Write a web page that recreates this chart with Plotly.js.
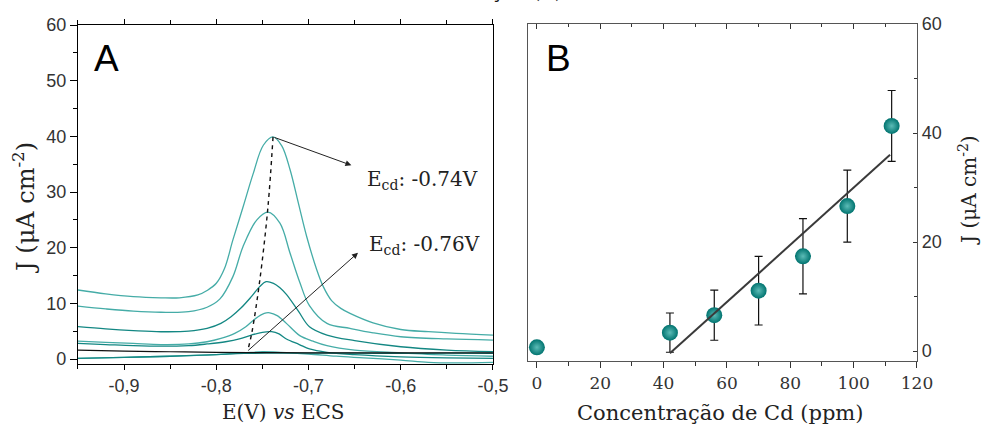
<!DOCTYPE html>
<html>
<head>
<meta charset="utf-8">
<script src="https://cdn.plot.ly/plotly-3.0.1.min.js"></script>
<style>html,body{margin:0;padding:0;background:#fff;}#chart{width:982px;height:426px;}</style>
</head>
<body>
<div id="chart"></div>
<script>
// ---------- Panel A: voltammograms ----------
const E1 = [-0.95,-0.92,-0.89,-0.86,-0.84,-0.82,-0.81,-0.80,-0.791,-0.782,-0.771,-0.760,-0.749,-0.7385,-0.729,-0.720,-0.711,-0.702,-0.691,-0.684,-0.675,-0.665,-0.655,-0.63,-0.60,-0.57,-0.54,-0.50];
const J1 = [12.4,11.7,11.2,11.0,11.0,11.5,12.3,13.6,16.3,21.4,27.3,33.3,38.4,39.9,38.3,34.0,28.0,22.0,16.0,13.0,10.5,9.1,8.2,6.5,5.3,4.9,4.6,4.3];
const E2 = [-0.95,-0.92,-0.89,-0.86,-0.83,-0.81,-0.796,-0.782,-0.771,-0.756,-0.744,-0.731,-0.720,-0.7095,-0.699,-0.68,-0.655,-0.63,-0.60,-0.55,-0.50];
const J2 = [9.5,9.0,8.6,8.4,8.5,9.3,10.8,14.8,20.2,25.0,26.4,24.4,19.0,13.8,9.6,6.4,5.5,4.7,4.0,3.6,3.4];
const E3 = [-0.95,-0.92,-0.89,-0.86,-0.83,-0.81,-0.795,-0.784,-0.773,-0.762,-0.753,-0.746,-0.738,-0.731,-0.724,-0.711,-0.699,-0.68,-0.65,-0.60,-0.55,-0.50];
const J3 = [5.8,5.4,5.1,4.9,5.0,5.5,6.4,7.6,9.2,11.2,13.0,13.9,13.6,12.8,11.6,8.6,5.8,4.3,3.3,2.2,1.6,1.3];
const E4 = [-0.95,-0.92,-0.89,-0.86,-0.83,-0.81,-0.795,-0.78,-0.768,-0.758,-0.748,-0.742,-0.734,-0.724,-0.7095,-0.695,-0.68,-0.65,-0.60,-0.55,-0.50];
const J4 = [3.2,3.0,2.8,2.6,2.7,3.1,3.7,4.6,5.8,7.2,8.2,8.3,7.8,6.4,4.2,3.2,2.4,1.6,1.1,0.7,0.5];
const E5 = [-0.95,-0.92,-0.89,-0.86,-0.83,-0.81,-0.79,-0.775,-0.762,-0.75,-0.74,-0.732,-0.724,-0.71,-0.699,-0.68,-0.65,-0.60,-0.55,-0.50];
const J5 = [2.8,2.6,2.4,2.3,2.4,2.7,3.1,3.6,4.3,4.8,4.9,4.5,3.6,2.6,1.8,1.2,0.8,0.4,0.2,0.1];
const E6 = [-0.95,-0.90,-0.85,-0.80,-0.77,-0.75,-0.73,-0.70,-0.67,-0.64,-0.60,-0.57,-0.54,-0.50];
const J6 = [0.1,0.3,0.5,0.8,1.1,1.3,1.2,0.9,0.5,0.2,-0.2,-0.6,-0.7,-0.6];
const E7 = [-0.95,-0.90,-0.85,-0.80,-0.77,-0.74,-0.70,-0.65,-0.60,-0.55,-0.50];
const J7 = [0.1,0.3,0.5,0.8,1.0,1.05,1.05,1.05,1.0,1.05,1.0];
const Eblk = [-0.95,-0.90,-0.85,-0.80,-0.75,-0.70,-0.60,-0.50];
const Jblk = [1.6,1.4,1.3,1.2,1.15,1.1,1.1,1.1];
// dashed peak-position guide
const Edash = [-0.7385,-0.744,-0.7528,-0.7615,-0.7658];
const Jdash = [39.9,27.3,14.2,4.7,1.6];
// arrows (tail -> head)
const arrowTailE = [-0.7385,-0.767];
const arrowTailJ = [39.9,1.3];
const arrowHeadE = [-0.6535,-0.6463];
const arrowHeadJ = [34.8,19.1];
const arrowLabels = ['E<sub>cd</sub>: -0.74V','E<sub>cd</sub>: -0.76V'];
const xTickValsA = [-0.9,-0.8,-0.7,-0.6,-0.5];
const xTickTextA = ['-0,9','-0,8','-0,7','-0,6','-0,5'];
const yTickValsA = [0,10,20,30,40,50,60];

// ---------- Panel B: calibration ----------
const concCd = [0,42,56,70,84,98,112];
const currentJ = [0.7,3.4,6.6,11.1,17.4,26.6,41.3];
const errJ = [0.5,3.6,4.6,6.3,6.9,6.6,6.5];
const fitX = [42,111.5];
const fitY = [-0.4,36];
const xTickValsB = [0,20,40,60,80,100,120];
const yTickValsB = [0,20,40,60];

const light = '#45aca7', dark = '#138783';
const lw = 1.3;
function curve(x,y,c){return {x:x,y:y,xaxis:'x',yaxis:'y',mode:'lines',line:{color:c,width:lw,shape:'spline',smoothing:1},hoverinfo:'skip'};}

const traces = [
  curve(E1,J1,light), curve(E2,J2,light), curve(E3,J3,dark), curve(E4,J4,light),
  curve(E5,J5,dark), curve(E6,J6,light), curve(E7,J7,dark),
  {x:Eblk,y:Jblk,xaxis:'x',yaxis:'y',mode:'lines',line:{color:'#111',width:1.2,shape:'spline'},hoverinfo:'skip'},
  {x:Edash,y:Jdash,xaxis:'x',yaxis:'y',mode:'lines',line:{color:'#111',width:1.4,dash:'4px,4px',shape:'spline'},hoverinfo:'skip'},
  {x:concCd,y:currentJ,xaxis:'x2',yaxis:'y2',mode:'markers',
   marker:{size:16,color:'#00736f',gradient:{type:'radial',color:'#5cbcb7'},line:{width:0}},
   error_y:{type:'data',array:errJ,visible:true,color:'#111',thickness:1.2,width:4}},
  {x:fitX,y:fitY,xaxis:'x2',yaxis:'y2',mode:'lines',line:{color:'#3a3a3a',width:2}},
  {x:[0],y:[0],xaxis:'x3',yaxis:'y2',mode:'markers',marker:{opacity:0},hoverinfo:'skip'}
];

const tickFontSans = {family:'Liberation Sans, Arial, sans-serif',size:18,color:'#333'};
const serif = 'DejaVu Serif, serif';

const annotations = [
  {xref:'paper',yref:'paper',x:0.0937,y:0.8638,xanchor:'left',yanchor:'middle',text:'A',showarrow:false,font:{family:'Liberation Sans, Arial',size:37,color:'#000'}},
  {xref:'paper',yref:'paper',x:0.554,y:0.8638,xanchor:'left',yanchor:'middle',text:'B',showarrow:false,font:{family:'Liberation Sans, Arial',size:37,color:'#000'}},
  {xref:'paper',yref:'paper',x:0.0244,y:0.5117,xanchor:'center',yanchor:'middle',textangle:-90,text:'J (μA cm<sup>-2</sup>)',showarrow:false,font:{family:serif,size:24,color:'#222'}},
  {xref:'paper',yref:'paper',x:0.9857,y:0.554,xanchor:'center',yanchor:'middle',textangle:-90,text:'J (μA cm<sup>-2</sup>)',showarrow:false,font:{family:serif,size:20,color:'#222'}},
  {xref:'paper',yref:'paper',x:0.2892,y:0.0329,xanchor:'center',yanchor:'middle',text:'E(V) <i>vs</i> ECS',showarrow:false,font:{family:serif,size:20,color:'#222'}},
  {xref:'paper',yref:'paper',x:0.7332,y:0.0305,xanchor:'center',yanchor:'middle',text:'Concentração de Cd (ppm)',showarrow:false,font:{family:serif,size:21,color:'#222'}},
  {xref:'paper',yref:'paper',x:0.3717,y:0.5775,xanchor:'left',yanchor:'middle',text:arrowLabels[0],showarrow:false,font:{family:serif,size:20,color:'#222'}},
  {xref:'paper',yref:'paper',x:0.3737,y:0.4249,xanchor:'left',yanchor:'middle',text:arrowLabels[1],showarrow:false,font:{family:serif,size:20,color:'#222'}},
  {xref:'paper',yref:'paper',x:0.537,y:1,xanchor:'center',yanchor:'bottom',yshift:-5,text:'ção (A)',showarrow:false,font:{family:serif,size:20,color:'#111'}}
];
for (let i=0;i<arrowTailE.length;i++){
  annotations.push({xref:'x',yref:'y',axref:'x',ayref:'y',x:arrowHeadE[i],y:arrowHeadJ[i],ax:arrowTailE[i],ay:arrowTailJ[i],
    text:'',showarrow:true,arrowhead:2,arrowsize:1.2,arrowwidth:1,arrowcolor:'#222',standoff:0,startstandoff:0});
}

const layout = {
  width:982,height:426,margin:{l:0,r:0,t:0,b:0},paper_bgcolor:'#fff',plot_bgcolor:'#fff',showlegend:false,
  xaxis:{domain:[0.0794,0.502],range:[-0.95,-0.5],anchor:'y',showgrid:false,zeroline:false,
    showline:true,linecolor:'#000',linewidth:1.2,mirror:'ticks',ticks:'outside',ticklen:5,tickwidth:1,tickcolor:'#000',
    tickvals:xTickValsA,ticktext:xTickTextA,tickfont:tickFontSans,
    minor:{ticks:'outside',ticklen:3.5,tickwidth:1,tickcolor:'#000',tickvals:[-0.95,-0.85,-0.75,-0.65,-0.55]}},
  yaxis:{domain:[0.1455,0.9413],range:[-0.9,60],anchor:'x',showgrid:false,zeroline:false,
    showline:true,linecolor:'#000',linewidth:1.2,mirror:true,ticks:'outside',ticklen:7,tickwidth:1,tickcolor:'#000',
    tickvals:yTickValsA,tickfont:tickFontSans,
    minor:{ticks:'outside',ticklen:3.5,tickwidth:1,tickcolor:'#000',dtick:5,tick0:0}},
  xaxis2:{domain:[0.5377,0.9338],range:[-2.8,120],anchor:'y2',showgrid:false,zeroline:false,
    showline:true,linecolor:'#555',linewidth:1.2,mirror:true,ticks:'outside',ticklen:6,tickwidth:1,tickcolor:'#333',
    tickvals:xTickValsB,tickfont:{family:serif,size:17,color:'#333'},
    minor:{ticks:'outside',ticklen:4,tickwidth:1,tickcolor:'#333',dtick:10,tick0:0}},
  xaxis3:{domain:[0.5377,0.9338],range:[-2.8,120],anchor:'y2',overlaying:'x2',side:'top',showgrid:false,zeroline:false,
    showline:false,ticks:'inside',ticklen:5,tickwidth:1,tickcolor:'#333',tickvals:xTickValsB,showticklabels:false,
    minor:{ticks:'inside',ticklen:3,tickwidth:1,tickcolor:'#333',dtick:10,tick0:0}},
  yaxis2:{domain:[0.1526,0.9437],range:[-1.8,60],anchor:'x2',side:'right',showgrid:false,zeroline:false,
    showline:true,linecolor:'#555',linewidth:1.2,mirror:true,ticks:'inside',ticklen:4,tickwidth:1,tickcolor:'#333',
    tickvals:yTickValsB,tickfont:{family:'Liberation Sans, Arial, sans-serif',size:18,color:'#333'},
    minor:{ticks:'inside',ticklen:3,tickwidth:1,tickcolor:'#333',dtick:10,tick0:0}},
  annotations:annotations
};

Plotly.newPlot('chart',traces,layout,{displayModeBar:false,staticPlot:true});
</script>
</body>
</html>
